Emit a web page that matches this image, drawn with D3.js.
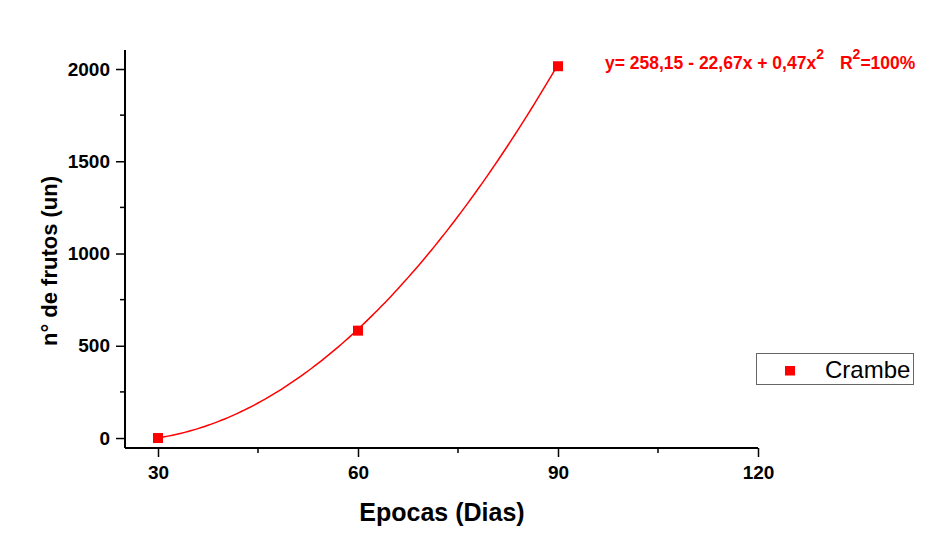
<!DOCTYPE html>
<html>
<head>
<meta charset="utf-8">
<script src="https://cdn.jsdelivr.net/npm/d3@7"></script>
<style>
  html, body { margin: 0; padding: 0; background: #fff; }
  svg { display: block; }
  text { font-family: "Liberation Sans", Arial, sans-serif; }
</style>
</head>
<body>
<svg id="chart" width="945" height="547"></svg>
<script>
// Observed fruit counts per sampling epoch
const epocas = [30, 60, 90];
const frutos = [0, 582, 2015];

// Quadratic fit y = a + b x + c x^2
const fitCoef = [258.15, -22.67, 0.47];
const fitLabel = { eq: "y= 258,15 - 22,67x + 0,47x", r: "R", rEnd: "=100%" };

const xTicks = [30, 60, 90, 120];
const yTicks = [0, 500, 1000, 1500, 2000];
const xMinor = [45, 75, 105];
const yMinor = [250, 750, 1250, 1750];
const seriesName = "Crambe";

const svg = d3.select("#chart");
const red = "#ff0000";

const x = d3.scaleLinear().domain([25.05, 120]).range([125, 758]);
const y = d3.scaleLinear().domain([-54, 2103]).range([448, 50]);

// Axes
const xAxis = d3.axisBottom(x).tickValues(xTicks).tickSize(9).tickPadding(9).tickFormat(d3.format("d"));
const yAxis = d3.axisLeft(y).tickValues(yTicks).tickSize(9).tickPadding(6).tickFormat(d3.format("d"));

const gx = svg.append("g").attr("transform", "translate(0,448)").call(xAxis);
const gy = svg.append("g").attr("transform", "translate(125,0)").call(yAxis);

[gx, gy].forEach(g => {
  g.select(".domain").attr("stroke", "#000").attr("stroke-width", 2);
  g.selectAll(".tick line").attr("stroke", "#000").attr("stroke-width", 1.5);
  g.selectAll(".tick text")
    .attr("fill", "#000")
    .style("font-family", "'Liberation Sans', Arial, sans-serif")
    .style("font-size", "19px")
    .style("font-weight", "bold");
});
gx.select(".domain").attr("d", `M${x.range()[0]},0H${x.range()[1]}`);
gy.select(".domain").attr("d", `M0,${y.range()[0]}V${y.range()[1]}`);

// Minor ticks
svg.append("g").selectAll("line").data(xMinor).join("line")
  .attr("x1", d => x(d)).attr("x2", d => x(d))
  .attr("y1", 448).attr("y2", 453)
  .attr("stroke", "#000").attr("stroke-width", 1.5);
svg.append("g").selectAll("line").data(yMinor).join("line")
  .attr("y1", d => y(d)).attr("y2", d => y(d))
  .attr("x1", 125).attr("x2", 120)
  .attr("stroke", "#000").attr("stroke-width", 1.5);

// Axis titles
svg.append("text")
  .attr("x", 442).attr("y", 521)
  .attr("text-anchor", "middle")
  .style("font-size", "25px").style("font-weight", "bold")
  .text("Epocas (Dias)");
svg.append("text")
  .attr("transform", "translate(57,261) rotate(-90)")
  .attr("text-anchor", "middle")
  .style("font-size", "22px").style("font-weight", "bold")
  .text("n° de frutos (un)");

// Fit curve across the observed range
const fit = t => fitCoef[0] + fitCoef[1] * t + fitCoef[2] * t * t;
const xs = d3.range(epocas[0], epocas[epocas.length - 1] + 0.001, 0.5);
svg.append("path")
  .datum(xs)
  .attr("fill", "none")
  .attr("stroke", red)
  .attr("stroke-width", 1.5)
  .attr("d", d3.line().x(d => x(d)).y(d => y(fit(d))));

// Observed points
const pts = epocas.map((e, i) => ({ e, f: frutos[i] }));
const sz = 10;
svg.append("g").selectAll("rect").data(pts).join("rect")
  .attr("x", d => x(d.e) - sz / 2)
  .attr("y", d => y(d.f) - sz / 2)
  .attr("width", sz).attr("height", sz)
  .attr("fill", red);

// Equation label
const eq = svg.append("text")
  .attr("x", 605).attr("y", 68.5)
  .attr("fill", red)
  .style("font-size", "17.5px").style("font-weight", "bold");
eq.append("tspan").text(fitLabel.eq);
eq.append("tspan").attr("dy", -10).style("font-size", "14px").text("2");
eq.append("tspan").attr("dy", 10).attr("dx", 16).text(fitLabel.r);
eq.append("tspan").attr("dy", -10).style("font-size", "14px").text("2");
eq.append("tspan").attr("dy", 10).text(fitLabel.rEnd);

// Legend
const lg = svg.append("g");
lg.append("rect")
  .attr("x", 756.5).attr("y", 353.5).attr("width", 157).attr("height", 31)
  .attr("fill", "#fff").attr("stroke", "#666").attr("stroke-width", 1);
lg.append("rect")
  .attr("x", 785).attr("y", 366).attr("width", 10).attr("height", 9.5)
  .attr("fill", red);
lg.append("text")
  .attr("x", 825).attr("y", 378)
  .style("font-size", "24px")
  .attr("fill", "#000")
  .text(seriesName);
</script>
</body>
</html>
